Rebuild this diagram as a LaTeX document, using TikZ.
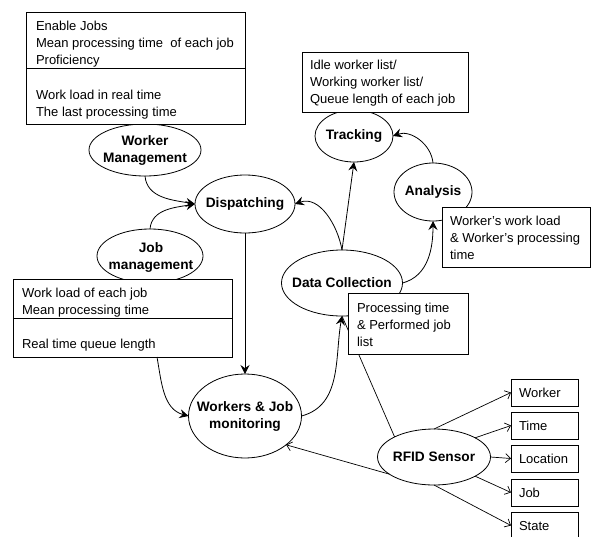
\documentclass[tikz,border=0pt]{standalone}
\usepackage{fontspec}
\setmainfont{Liberation Sans}
\usetikzlibrary{shapes.geometric,arrows.meta}
\begin{document}
\begin{tikzpicture}[x=1pt,y=-1pt,
  every node/.style={inner sep=0pt,outer sep=0pt},
  ell/.style={ellipse,draw,fill=white,line width=0.8pt},
  etxt/.style={font=\fontsize{13.7}{17}\selectfont\bfseries,align=center},
  box/.style={rectangle,draw,fill=white,line width=0.8pt},
  txt/.style={anchor=base west,font=\fontsize{13}{16}\selectfont},
  arr/.style={line width=0.8pt,-{Stealth[length=9pt,width=9pt,inset=3.2pt]}},
  oarr/.style={line width=0.7pt,-{Straight Barb[length=5pt,width=9pt]}},
  ln/.style={line width=0.7pt}]
\useasboundingbox (0,0) rectangle (592,536);

% ellipses
\node[ell,minimum width=112pt,minimum height=52pt] (wm) at (145,150) {};
\node[etxt] (wmt) at (wm) {Worker\\Management};
\node[ell,minimum width=100pt,minimum height=58pt] (disp) at (245,204) {};
\node[etxt] (dispt) at (disp) {Dispatching};
\node[ell,minimum width=106pt,minimum height=54pt] (jm) at (150,256) {};
\node[etxt] (jmt) at (151,257) {Job\\management};
\node[ell,minimum width=113pt,minimum height=84pt] (wjm) at (245,416) {};
\node[etxt] (wjmt) at (wjm) {Workers \& Job\\monitoring};
\node[ell,minimum width=78pt,minimum height=52pt] (trk) at (354,136) {};
\node[etxt] (trkt) at (trk) {Tracking};
\node[ell,minimum width=78pt,minimum height=58pt] (ana) at (433,192) {};
\node[etxt] (anat) at (ana) {Analysis};
\node[ell,minimum width=121pt,minimum height=66pt] (dc) at (342,283) {};
\node[etxt] (dct) at (dc) {Data Collection};
\node[ell,minimum width=113pt,minimum height=56pt] (rfid) at (434,457) {};
\node[etxt] (rfidt) at (rfid) {RFID Sensor};

% line hidden partly behind the processing box
\draw[ln] (dc.south) -- (rfid.153);

% boxes
\node[box,minimum width=219pt,minimum height=112pt] (wbox) at (135.5,68) {};
\draw[line width=0.8pt] (wbox.west) -- (wbox.east);
\node[txt] (w1) at (36,30) {Enable Jobs};
\node[txt] (w2) at (36,47) {Mean processing time \ of each job};
\node[txt] (w3) at (36,64) {Proficiency};
\node[txt] (w4) at (36,99) {Work load in real time};
\node[txt] (w5) at (36,116) {The last processing time};

\node[box,minimum width=219pt,minimum height=78pt] (jbox) at (122.5,318) {};
\draw[line width=0.8pt] (jbox.west) -- (jbox.east);
\node[txt] (j1) at (22,297) {Work load of each job};
\node[txt] (j2) at (22,314) {Mean processing time};
\node[txt] (j3) at (22,348) {Real time queue length};

\node[box,minimum width=166pt,minimum height=60pt] (tbox) at (385,82) {};
\node[txt] (t1) at (310,69) {Idle worker list/};
\node[txt] (t2) at (310,86) {Working worker list/};
\node[txt] (t3) at (310,103) {Queue length of each job};

\node[box,minimum width=148pt,minimum height=60pt] (abox) at (516,237) {};
\node[txt] (a1) at (450,225) {Worker’s work load};
\node[txt] (a2) at (450,242) {\& Worker’s processing};
\node[txt] (a3) at (450,259) {time};

\node[box,minimum width=120pt,minimum height=61pt] (pbox) at (408,323.5) {};
\node[txt] (p1) at (357,312) {Processing time};
\node[txt] (p2) at (357,329) {\& Performed job};
\node[txt] (p3) at (357,346) {list};

\node[box,minimum width=67pt,minimum height=27pt] (sw) at (544.5,392.5) {};
\node[txt] (swt) at (519,397) {Worker};
\node[box,minimum width=67pt,minimum height=27pt] (st) at (544.5,425.5) {};
\node[txt] (stt) at (519,430) {Time};
\node[box,minimum width=67pt,minimum height=27pt] (sl) at (544.5,458.5) {};
\node[txt] (slt) at (519,463) {Location};
\node[box,minimum width=67pt,minimum height=27pt] (sj) at (544.5,492.5) {};
\node[txt] (sjt) at (519,497) {Job};
\node[box,minimum width=67pt,minimum height=27pt] (ss) at (544.5,525.5) {};
\node[txt] (sst) at (519,530) {State};

% connectors
\draw[arr] (wm.south) to[out=-85,in=170] (disp.west);
\draw[arr] (jm.north) to[out=85,in=190] (disp.west);
\draw[arr] (disp.south) -- (wjm.north);
\draw[arr] ([xshift=34.5pt]jbox.south) to[out=-80,in=165] (wjm.west);
\draw[arr] (wjm.east) to[out=15,in=-100] (dc.south);
\draw[arr] (dc.north) -- (trk.south);
\draw[arr] (dc.north) to[out=100,in=20] (disp.east);
\draw[arr] (dc.east) to[out=15,in=-90] (ana.south);
\draw[arr] (ana.north) to[out=95,in=20] (trk.east);

\draw[oarr] (rfid.201) -- (wjm.-35);
\draw[oarr] (rfid.north) -- (sw.west);
\draw[oarr] (rfid.25) -- (st.west);
\draw[oarr] (rfid.east) -- (sl.west);
\draw[oarr] (rfid.-25) -- (sj.west);
\draw[oarr] (rfid.south) -- (ss.west);
\end{tikzpicture}
\end{document}
